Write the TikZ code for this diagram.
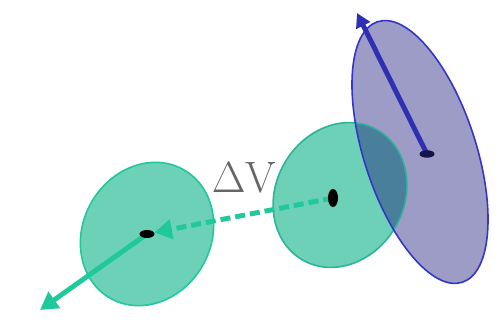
\documentclass[tikz,border=0pt]{standalone}
\usetikzlibrary{arrows.meta, positioning, shapes.geometric, backgrounds}
\definecolor{dvgreen}{HTML}{6CD1B6}
\definecolor{dvgreenline}{HTML}{1FC99B}
\definecolor{orbitblue}{HTML}{9C9CC6}
\definecolor{orbitblueline}{HTML}{3434C8}
\definecolor{overlapteal}{HTML}{4A7F9C}
\definecolor{labelgray}{HTML}{666666}
\definecolor{dotnavy}{HTML}{14144A}

\begin{document}
\begin{tikzpicture}[x=0.02cm, y=-0.02cm,
  greenvec/.style={dvgreenline, line width=2.8pt, -{Triangle[length=10pt, width=11pt]}},
  dvvec/.style={greenvec, dash pattern=on 5.7pt off 2.8pt},
  bluevec/.style={orbitblueline!90!black, line width=2.8pt, -{Triangle[length=8pt, width=8.5pt]}},
  centerdot/.style={ellipse, fill=black, inner sep=0pt}]

\useasboundingbox (0,0) rectangle (500,333);

\coordinate (leftc) at (147,234);
\coordinate (midc) at (340,195);
\coordinate (bluec) at (420,152);

% Centres
\node[centerdot, minimum width=0.3cm, minimum height=0.16cm] (leftdot) at (147,234) {};
\node[centerdot, minimum width=0.2cm, minimum height=0.36cm] (middot) at (333,198) {};
\node[centerdot, fill=dotnavy, minimum width=0.3cm, minimum height=0.15cm] (bluedot) at (427,154) {};

\coordinate (lefttip) at (40,310);
\coordinate (bluetip) at (357,13);

\begin{pgfonlayer}{background}
% Blue error ellipse
\fill[orbitblue] [rotate around={108:(bluec)}] (bluec) ellipse [x radius=137, y radius=56];

% Green error ellipses
\fill[dvgreen] [rotate around={60:(leftc)}] (leftc) ellipse [x radius=74, y radius=64];
\draw[dvgreenline, line width=0.9pt] [rotate around={60:(leftc)}] (leftc) ellipse [x radius=74, y radius=64];
\fill[dvgreen] [rotate around={60:(midc)}] (midc) ellipse [x radius=75, y radius=64];

% Overlap region
\begin{scope}
  \clip[rotate around={108:(bluec)}] (bluec) ellipse [x radius=137, y radius=56];
  \fill[overlapteal] [rotate around={60:(midc)}] (midc) ellipse [x radius=75, y radius=64];
\end{scope}
\draw[dvgreenline!70!overlapteal, line width=0.9pt] [rotate around={60:(midc)}] (midc) ellipse [x radius=75, y radius=64];
\draw[orbitblueline, line width=0.9pt] [rotate around={108:(bluec)}] (bluec) ellipse [x radius=137, y radius=56];

% Vectors
\draw[greenvec] (leftdot.center) -- (lefttip);
\draw[dvvec] (middot.center) -- (leftdot);
\draw[bluevec] (bluedot.center) -- (bluetip);
\end{pgfonlayer}

\node[text=labelgray, font=\fontsize{25}{25}\selectfont] (dvlabel) at (244,178) {$\Delta$V};

\end{tikzpicture}
\end{document}
